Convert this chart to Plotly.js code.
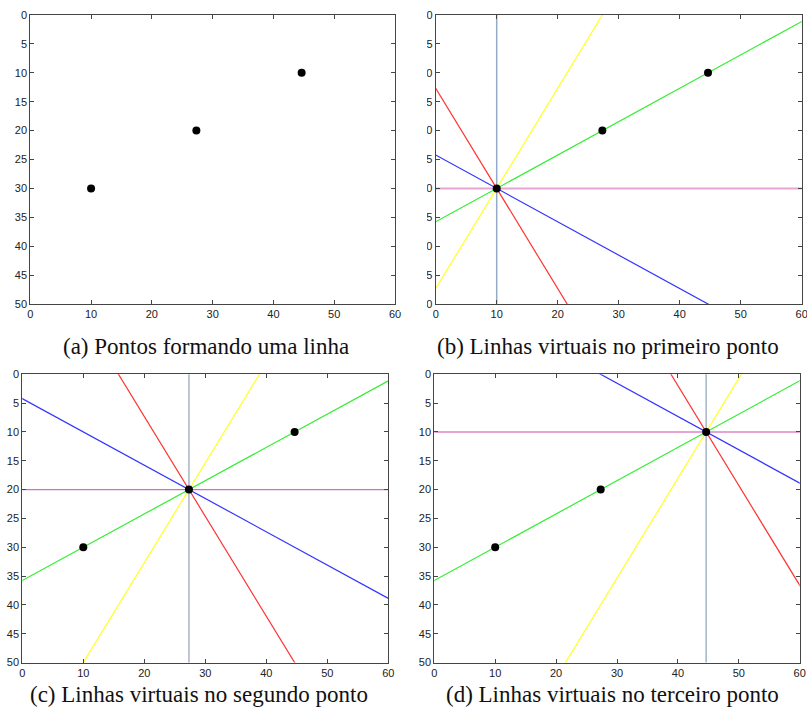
<!DOCTYPE html>
<html>
<head>
<meta charset="utf-8">
<script src="https://cdn.plot.ly/plotly-3.0.1.min.js"></script>
<style>html,body{margin:0;padding:0;background:#fff;}#chart{width:807px;height:712px;}</style>
</head>
<body>
<div id="chart"></div>
<script>
// ---- data ----
const pointX = [10, 27.32, 44.64];
const pointY = [30, 20, 10];
// virtual lines through a point, angle in degrees (as seen in the picture)
const lineAngles = [30, 60, -60, -30, 0, 90];
const lineNames = ['30°', '60°', '-60°', '-30°', '0°', '90°'];
// which point the virtual lines go through in each panel (null = none)
const panelPoint = [null, 0, 1, 2];
const captions = [
  '(a) Pontos formando uma linha',
  '(b) Linhas virtuais no primeiro ponto',
  '(c) Linhas virtuais no segundo ponto',
  '(d) Linhas virtuais no terceiro ponto'
];
const xTicks = [0, 10, 20, 30, 40, 50, 60];
const yTicks = [0, 5, 10, 15, 20, 25, 30, 35, 40, 45, 50];

// ---- styles ----
const lineColors = ['#33ee33', '#ffff22', '#ff3333', '#3333ff', '#e6a3d6', '#93abc9'];
const lineWidths = [1.2, 1.2, 1.2, 1.2, 2, 1.5];
const horizColors = ['#e6a3d6', '#e6a3d6', '#d06ec0', '#e6a3d6'];
const horizWidths = [2, 2, 1.4, 2];
const vertColors = ['#93abc9', '#93abc9', '#a9b5c3', '#a4b4c9'];
const domainsX = [[30.3, 395], [435.7, 801.7], [22.3, 388.3], [434.3, 799.7]];
const domainsY = [[15, 304], [15, 304], [374.3, 662.5], [374.3, 662.5]];
const captionPos = [[206, 346], [608, 346], [199, 694], [612, 694]];
const W = 807, H = 712;

const traces = [];
const layout = {
  width: W, height: H,
  margin: {l: 0, r: 0, t: 0, b: 0},
  paper_bgcolor: '#ffffff', plot_bgcolor: '#ffffff',
  showlegend: false,
  annotations: [],
  shapes: []
};

function axisCommon() {
  return {
    showgrid: false, zeroline: false, showline: true, mirror: 'ticks',
    ticks: 'inside', ticklen: 4, tickwidth: 1,
    linecolor: '#454545', tickcolor: '#454545', linewidth: 1,
    tickfont: {family: 'Liberation Sans, Arial, sans-serif', size: 11, color: '#222222'},
    ticklabeloverflow: 'allow',
    fixedrange: true
  };
}

for (let p = 0; p < 4; p++) {
  const sfx = p === 0 ? '' : String(p + 1);
  const xa = 'x' + sfx, ya = 'y' + sfx;
  const xax = Object.assign(axisCommon(), {
    domain: [domainsX[p][0] / W, domainsX[p][1] / W],
    range: [0, 60], tickmode: 'array', tickvals: xTicks, ticktext: xTicks.map(String),
    anchor: ya
  });
  const yax = Object.assign(axisCommon(), {
    domain: [(H - domainsY[p][1]) / H, (H - domainsY[p][0]) / H],
    range: [50, 0], tickmode: 'array', tickvals: yTicks, ticktext: yTicks.map(String),
    anchor: xa
  });
  layout['xaxis' + sfx] = xax;
  layout['yaxis' + sfx] = yax;

  const ip = panelPoint[p];
  if (ip !== null) {
    for (let k = 0; k < lineAngles.length; k++) {
      const a = lineAngles[k] * Math.PI / 180;
      const L = 200;
      const x0 = pointX[ip], y0 = pointY[ip];
      let color = lineColors[k], width = lineWidths[k];
      if (lineAngles[k] === 0) { color = horizColors[p]; width = horizWidths[p]; }
      if (lineAngles[k] === 90) color = vertColors[p];
      traces.push({
        type: 'scatter', mode: 'lines', name: lineNames[k],
        x: [x0 - L * Math.cos(a), x0 + L * Math.cos(a)],
        y: [y0 + L * Math.sin(a), y0 - L * Math.sin(a)],
        xaxis: xa, yaxis: ya,
        line: {color: color, width: width},
        hoverinfo: 'skip'
      });
    }
  }
  traces.push({
    type: 'scatter', mode: 'markers', name: 'pontos',
    x: pointX, y: pointY, xaxis: xa, yaxis: ya,
    marker: {color: '#000000', size: 8},
    cliponaxis: false
  });

  layout.annotations.push({
    xref: 'paper', yref: 'paper',
    x: captionPos[p][0] / W, y: (H - captionPos[p][1]) / H,
    xanchor: 'center', yanchor: 'middle', showarrow: false,
    text: captions[p],
    font: {family: 'Liberation Serif, Times New Roman, serif', size: 23, color: '#111111'}
  });
}

// the reference picture is a crop: the first digit of panel (b)'s y labels is cut away
layout.shapes.push({
  type: 'rect', xref: 'paper', yref: 'paper', layer: 'above',
  x0: 399.5 / W, x1: 427 / W, y0: (H - 312) / H, y1: 1,
  fillcolor: '#ffffff', line: {width: 0}
});

Plotly.newPlot('chart', traces, layout, {displayModeBar: false, staticPlot: true});
</script>
</body>
</html>
